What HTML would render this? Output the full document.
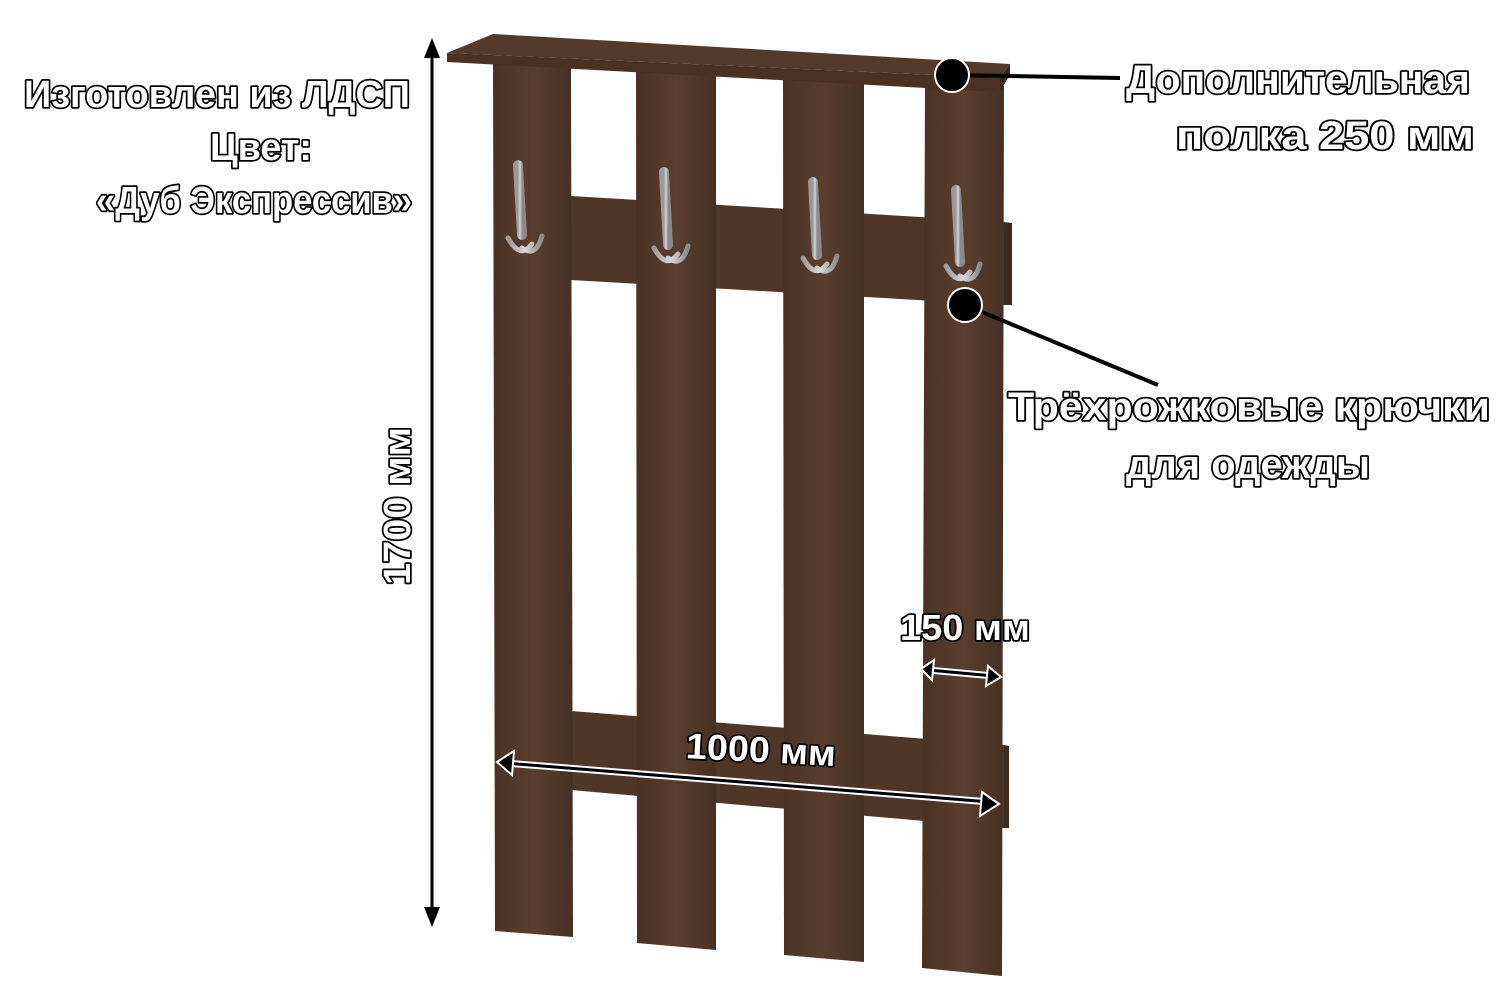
<!DOCTYPE html>
<html><head><meta charset="utf-8"><style>
html,body{margin:0;padding:0;background:#fff;}
svg{display:block}
.t{font-family:"Liberation Sans","DejaVu Sans",sans-serif;font-weight:bold;fill:#fff;stroke:#000;stroke-width:3.5;paint-order:stroke;stroke-linejoin:round}
</style></head><body>
<svg width="1500" height="1000" viewBox="0 0 1500 1000" xmlns="http://www.w3.org/2000/svg">
<defs>
<linearGradient id="w" x1="0" x2="1" y1="0" y2="0">
<stop offset="0" stop-color="#4a3223"/><stop offset="0.5" stop-color="#5a3e2d"/><stop offset="1" stop-color="#463022"/>
</linearGradient>
<linearGradient id="h" x1="0" x2="1"><stop offset="0" stop-color="#9a9a9a"/><stop offset="0.5" stop-color="#d8d8d8"/><stop offset="1" stop-color="#8a8a8a"/></linearGradient>
</defs>
<polygon points="571,196 1004,222 1004,305 571,280" fill="#503626"/>
<polygon points="1004,222 1012,223 1012,305 1004,305" fill="#3e2a1e"/>
<polygon points="571,711 1004,745 1004,828 571,790" fill="#503626"/>
<polygon points="1004,745 1009,746 1009,828 1004,828" fill="#3e2a1e"/>
<polygon points="493,62 571,66 573,937 495,931" fill="url(#w)"/>
<polygon points="636,70 716,74 716,950 637,943" fill="url(#w)"/>
<polygon points="783,76 864,80 864,962 784,955" fill="url(#w)"/>
<polygon points="925,82 1004,86 1002,976 922,968" fill="url(#w)"/>
<polygon points="447,53 493,34 1010,64 1000,78" fill="#543a2a"/>
<polygon points="447,53 1000,78 1000,92 447,62" fill="#4a3121"/>
<polygon points="1000,78 1010,64 1010,74 1000,92" fill="#3a271b"/>
<g fill="none" stroke="url(#h)" stroke-linecap="round">
<path d="M518,165 L522,235" stroke-width="10"/><path d="M508,238 q12,22 24,6 M522,248 q14,10 20,-12" stroke-width="5"/>
<path d="M664,172 L668,245" stroke-width="10"/><path d="M654,248 q12,22 24,6 M668,258 q14,10 20,-12" stroke-width="5"/>
<path d="M813,182 L817,255" stroke-width="10"/><path d="M803,258 q12,22 24,6 M817,268 q14,10 20,-12" stroke-width="5"/>
<path d="M956,190 L960,262" stroke-width="10"/><path d="M946,266 q12,22 24,6 M960,276 q14,10 20,-12" stroke-width="5"/>
</g>
<line x1="432" y1="50" x2="432" y2="915" stroke="#000" stroke-width="3"/>
<polygon points="432,38 424,58 440,58" fill="#000"/>
<polygon points="432,927 424,907 440,907" fill="#000"/>
<line x1="505" y1="763" x2="990" y2="802" stroke="#fff" stroke-width="7"/>
<line x1="505" y1="763" x2="990" y2="802" stroke="#000" stroke-width="3"/>
<polygon points="497,762 514,751 512,775" fill="#000" stroke="#fff" stroke-width="2"/>
<polygon points="999,804 982,792 980,816" fill="#000" stroke="#fff" stroke-width="2"/>
<line x1="928" y1="670" x2="994" y2="676" stroke="#fff" stroke-width="7"/>
<line x1="928" y1="670" x2="994" y2="676" stroke="#000" stroke-width="3"/>
<polygon points="921,669 934,660 932,680" fill="#000" stroke="#fff" stroke-width="2"/>
<polygon points="1001,677 988,666 986,686" fill="#000" stroke="#fff" stroke-width="2"/>
<line x1="952" y1="75" x2="1120" y2="78" stroke="#000" stroke-width="4"/>
<circle cx="952" cy="75" r="17" fill="#000" stroke="#fff" stroke-width="2"/>
<line x1="965" y1="305" x2="1158" y2="385" stroke="#000" stroke-width="4"/>
<circle cx="965" cy="305" r="17" fill="#000" stroke="#fff" stroke-width="2"/>
<text class="t" x="410" y="107" text-anchor="end" font-size="38" textLength="386" lengthAdjust="spacingAndGlyphs">Изготовлен из ЛДСП</text>
<text class="t" x="312" y="160" text-anchor="end" font-size="38" textLength="102" lengthAdjust="spacingAndGlyphs">Цвет:</text>
<text class="t" x="412" y="213" text-anchor="end" font-size="38" textLength="316" lengthAdjust="spacingAndGlyphs">«Дуб Экспрессив»</text>
<text class="t" x="1470" y="93" text-anchor="end" font-size="40" textLength="344" lengthAdjust="spacingAndGlyphs">Дополнительная</text>
<text class="t" x="1474" y="149" text-anchor="end" font-size="40" textLength="298" lengthAdjust="spacingAndGlyphs">полка 250 мм</text>
<text class="t" x="1490" y="420" text-anchor="end" font-size="40" textLength="482" lengthAdjust="spacingAndGlyphs">Трёхрожковые крючки</text>
<text class="t" x="1370" y="478" text-anchor="end" font-size="40" textLength="244" lengthAdjust="spacingAndGlyphs">для одежды</text>
<text class="t" x="900" y="640" font-size="36" textLength="130" lengthAdjust="spacingAndGlyphs">150 мм</text>
<text class="t" x="686" y="762" font-size="36" textLength="150" lengthAdjust="spacingAndGlyphs" transform="rotate(3 760 750)">1000 мм</text>
<text class="t" x="0" y="0" font-size="38" textLength="158" lengthAdjust="spacingAndGlyphs" transform="translate(410 585) rotate(-90)">1700 мм</text>
</svg>
</body></html>
